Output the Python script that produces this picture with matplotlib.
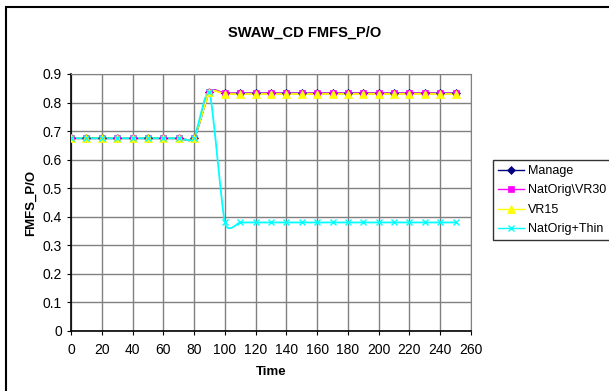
import numpy as np
import matplotlib
matplotlib.use('Agg')
import matplotlib.pyplot as plt
from matplotlib.path import Path
from matplotlib.patches import PathPatch, Rectangle
from matplotlib.lines import Line2D

plt.rcParams['font.family'] = ['Liberation Sans', 'DejaVu Sans']

# data
time = [0, 10, 20, 30, 40, 50, 60, 70, 80, 90, 100, 110, 120, 130, 140, 150, 160,
        170, 180, 190, 200, 210, 220, 230, 240, 250]
manage = [0.675] * 9 + [0.838] + [0.832] * 16
natorig_vr30 = [0.675] * 9 + [0.838] + [0.832] * 16
vr15 = [0.675] * 9 + [0.836] + [0.830] * 16
natorig_thin = [0.675] * 9 + [0.838] + [0.380] * 16

names = ['Manage', 'NatOrig\\VR30', 'VR15', 'NatOrig+Thin']
series = [manage, natorig_vr30, vr15, natorig_thin]
colors = ['#000080', '#FF00FF', '#FFFF00', '#00FFFF']
markers = ['D', 's', '^', 'x']
msizes = [4, 4.5, 5.5, 5]


def smooth_path(x, y, k=0.1):
    # smoothed line like the spreadsheet: cubic bezier through every point
    x = np.asarray(x, float)
    y = np.asarray(y, float)
    n = len(x)
    verts = [(x[0], y[0])]
    codes = [Path.MOVETO]
    for i in range(n - 1):
        x0, y0 = (x[i - 1], y[i - 1]) if i > 0 else (x[i], y[i])
        x3, y3 = (x[i + 2], y[i + 2]) if i + 2 < n else (x[i + 1], y[i + 1])
        c1 = (x[i] + (x[i + 1] - x0) * k, y[i] + (y[i + 1] - y0) * k)
        c2 = (x[i + 1] - (x3 - x[i]) * k, y[i + 1] - (y3 - y[i]) * k)
        verts += [c1, c2, (x[i + 1], y[i + 1])]
        codes += [Path.CURVE4] * 3
    return Path(verts, codes)


fig = plt.figure(figsize=(6.09, 3.91), dpi=100)
ax = fig.add_axes([71 / 609, 0.1535, 400 / 609, 0.6573])

for name, ys, c, m, ms in zip(names, series, colors, markers, msizes):
    ax.add_patch(PathPatch(smooth_path(time, ys), fill=False, edgecolor=c, lw=1.3, zorder=3))
    ax.plot(time, ys, linestyle='none', marker=m, color=c, markersize=ms,
            markeredgewidth=1.0 if m == 'x' else 0.5, zorder=4)

ax.set_xlim(0, 260)
ax.set_ylim(0, 0.9)
ax.set_xticks(np.arange(0, 261, 20))
ax.set_yticks(np.arange(0, 0.91, 0.1))
ax.set_yticklabels(['0'] + ['%.1f' % v for v in np.arange(0.1, 0.91, 0.1)])
ax.tick_params(labelsize=10, length=3, width=0.8, direction='out', colors='black')
ax.tick_params(axis='x', pad=6)
ax.grid(True, color='#808080', lw=1)
ax.set_axisbelow(True)
for s in ['top', 'right']:
    ax.spines[s].set_color('#808080')
for s in ['left', 'bottom']:
    ax.spines[s].set_color('black')
    ax.spines[s].set_linewidth(1.2)

ax.set_xlabel('Time', fontsize=9.5, fontweight='bold', labelpad=6)
ax.set_ylabel('FMFS_P/O', fontsize=9.5, fontweight='bold', labelpad=4)
fig.text(0.5, 1 - 33 / 391, 'SWAW_CD FMFS_P/O', ha='center', va='center', fontsize=10.5, fontweight='bold')

handles = [Line2D([], [], color=c, marker=m, markersize=ms, lw=1.0,
                  markeredgewidth=1.0 if m == 'x' else 0.5)
           for c, m, ms in zip(colors, markers, msizes)]
leg = fig.legend(handles, names, loc='upper left', bbox_to_anchor=(493 / 609, 1 - 160 / 391),
                 fontsize=9, frameon=True, fancybox=False, edgecolor='black',
                 handlelength=2.1, handletextpad=0.3, borderpad=0.4, labelspacing=0.6,
                 borderaxespad=0)
leg.get_frame().set_linewidth(1.0)

# outer chart border
fig.patches.append(Rectangle((6 / 609, -0.02), 1.05, 1 - 7 / 391 + 0.02, transform=fig.transFigure,
                             fill=False, edgecolor='black', lw=1.5))

fig.savefig('out.png', dpi=100)
